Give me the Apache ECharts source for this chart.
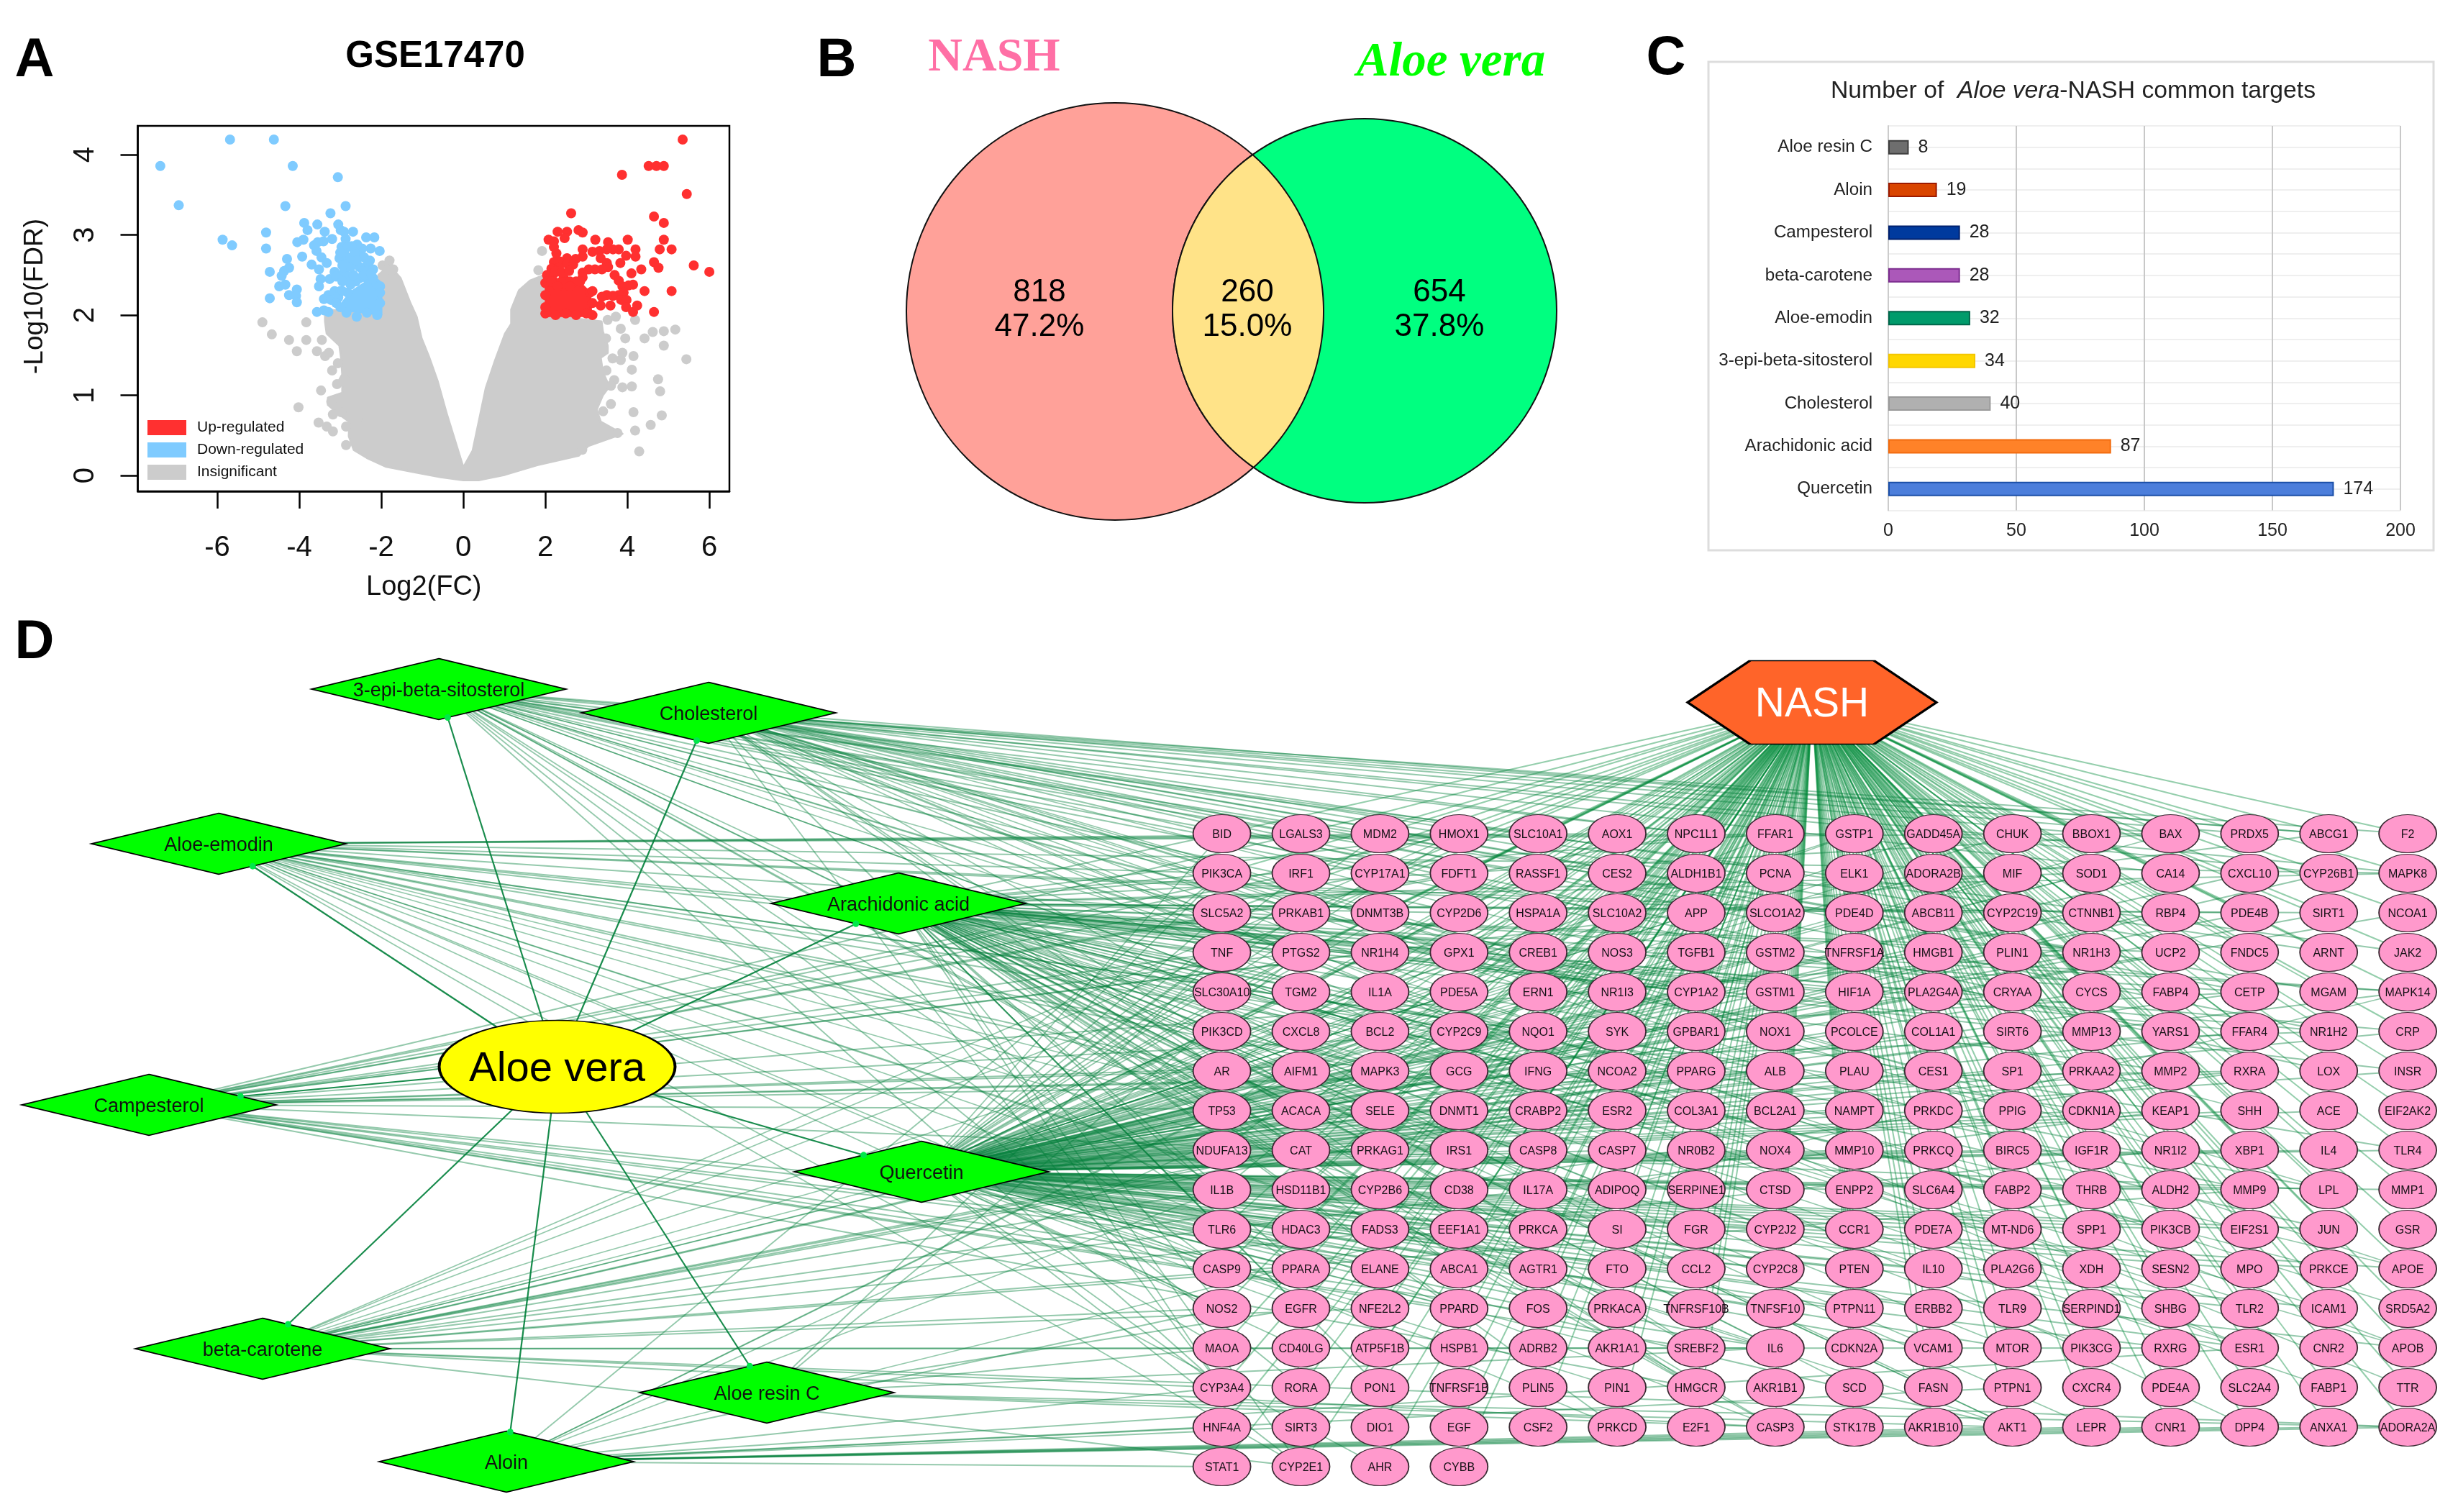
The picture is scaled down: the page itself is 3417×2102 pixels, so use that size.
<!DOCTYPE html>
<html><head><meta charset="utf-8">
<style>html,body{margin:0;padding:0;background:#fff}#c{width:3417px;height:2102px}</style>
<script src="https://cdn.jsdelivr.net/npm/echarts@6/dist/echarts.min.js"></script>
</head><body><div id="c"></div>
<script>
// ---------- Panel A: volcano (log2FC, -log10FDR)
const grayDense=[[0,-0.057],[-0.55,-0.02],[-1.18,0.04],[-1.88,0.11],[-2.35,0.22],[-2.67,0.32],[-2.79,0.49],[-2.78,0.67],[-3.02,0.76],[-3.3,0.88],[-3.3,0.97],[-2.95,1.03],[-2.95,1.12],[-3.06,1.16],[-2.95,1.26],[-2.98,1.47],[-3.02,1.62],[-3.33,1.77],[-3.37,1.92],[-3.37,2.07],[-1.95,2],[-2.07,2.5],[-1.8,2.62],[-1.53,2.46],[-1.3,2.16],[-1.14,1.98],[-1.02,1.71],[-0.83,1.47],[-0.63,1.18],[-0.4,0.76],[0,0.1],[0.23,0.31],[0.55,1.09],[0.78,1.44],[1.02,1.77],[1.17,1.89],[1.17,2.07],[1.36,2.31],[1.63,2.43],[1.97,2.5],[1.97,2],[3.37,1.92],[3.4,1.8],[3.52,1.62],[3.52,1.53],[3.35,1.47],[3.4,1.29],[3.56,1.11],[3.4,1],[3.25,0.82],[3.35,0.67],[3.88,0.52],[3.05,0.37],[2.82,0.25],[1.8,0.13],[1.02,0.01],[0.39,-0.057]];
const grayPoints=[[-4.9,1.91],[-3.83,1.91],[-4.67,1.76],[-4.25,1.69],[-3.83,1.69],[-3.45,1.69],[-4.06,1.55],[-3.57,1.55],[-3.37,1.49],[-3.28,1.53],[-3.06,1.4],[-3.2,1.31],[-3.08,1.14],[-2.9,1.2],[-3.47,1.06],[-4.02,0.85],[-3.53,0.66],[-3.33,0.61],[-3.18,0.55],[-2.86,0.61],[-2.86,0.38],[-3.22,0.92],[-3.18,0.76],[-2.98,0.79],[-2.59,0.7],[3.52,1.94],[3.72,1.98],[4.19,1.94],[3.84,1.83],[5.17,1.82],[4.89,1.8],[4.62,1.79],[4.42,1.71],[3.95,1.71],[3.48,1.71],[4.89,1.62],[5.44,1.45],[4.15,1.49],[3.88,1.53],[3.84,1.44],[3.64,1.46],[4.11,1.32],[3.49,1.31],[3.68,1.19],[4.75,1.2],[4.8,1.05],[4.11,1.11],[3.88,1.1],[3.6,1.12],[3.6,0.89],[3.41,0.8],[4.15,0.79],[4.84,0.75],[4.57,0.63],[4.19,0.56],[3.76,0.53],[4.29,0.3],[2.9,0.32],[1.92,2.8],[1.83,2.56],[-1.8,2.68],[-1.97,2.62],[-1.83,2.57],[-1.71,2.57]];
const blueDense=[[-2.94,2.16],[-2.76,2.28],[-2.35,2.42],[-2,2.36],[-2,2.01],[-2.91,2.06]];
const bluePoints=[[-7.39,3.86],[-5.69,4.19],[-4.62,4.19],[-4.16,3.86],[-3.06,3.72],[-6.94,3.37],[-4.34,3.36],[-2.87,3.36],[-3.24,3.27],[-3.88,3.15],[-3.8,3.06],[-3.56,3.13],[-3.05,3.13],[-2.99,3.06],[-3.38,3.04],[-2.69,3.04],[-2.91,3.04],[-4.81,3.03],[-5.87,2.94],[-5.64,2.87],[-2.37,2.97],[-2.17,2.97],[-4.05,2.91],[-3.9,2.94],[-3.2,2.95],[-3.41,2.92],[-2.87,2.95],[-4.81,2.83],[-3.64,2.87],[-3.55,2.91],[-3.58,2.8],[-2.04,2.8],[-2.26,2.83],[-2.47,2.83],[-2.59,2.88],[-2.97,2.85],[-2.82,2.85],[-3.02,2.71],[-2.91,2.77],[-2.56,2.74],[-2.82,2.67],[-2.67,2.64],[-3.46,2.72],[-3.33,2.65],[-4.3,2.7],[-3.93,2.73],[-3.7,2.63],[-3.52,2.57],[-4.25,2.59],[-4.37,2.55],[-4.72,2.54],[-4.43,2.49],[-3.14,2.54],[-2.91,2.55],[-2.35,2.62],[-2.2,2.57],[-2.53,2.6],[-2.44,2.55],[-3,2.48],[-2.82,2.48],[-3.26,2.45],[-3.48,2.45],[-3.52,2.36],[-4.49,2.36],[-4.34,2.38],[-4.06,2.32],[-4.25,2.25],[-4.08,2.24],[-4.06,2.16],[-4.72,2.21],[-3.14,2.3],[-3,2.3],[-2.82,2.28],[-3.29,2.25],[-3.4,2.2],[-3.23,2.19],[-3.57,2.04],[-3.29,2.04],[-3.4,2.06],[-3.05,2.22],[-2.53,2.46],[-2.35,2.46],[-2.12,2.39],[-2.03,2.36],[-2.85,2.03],[-2.6,1.98],[-2.35,2.03],[-2.1,2.0],[-2.03,2.15],[-2.03,2.28],[-2.2,2.46],[-2.4,2.5],[-2.62,2.42],[-2.75,2.38],[-2.68,2.5],[-2.95,2.3],[-3.1,2.15],[-3,2.1],[-2.75,2.72],[-2.75,2.6],[-2.65,2.78],[-2.42,2.72],[-2.28,2.68],[-2.25,2.52],[-2.6,2.68],[-2.95,2.62],[-3,2.78],[-2.72,2.86],[-3.1,2.48],[-2.95,2.42]];
const redDense=[[2.01,2.37],[2.91,2.37],[3.09,2.28],[3.12,1.99],[2.01,1.99]];
const redPoints=[[5.35,4.19],[4.52,3.86],[4.71,3.86],[4.89,3.86],[3.87,3.75],[5.45,3.51],[2.63,3.27],[4.65,3.23],[4.89,3.15],[2.81,3.06],[2.91,3.03],[2.3,3.04],[2.53,3.04],[2.47,2.96],[2.08,2.94],[2.21,2.92],[2.21,2.85],[2.27,2.77],[3.22,2.94],[3.53,2.91],[4.01,2.94],[4.89,2.94],[4.79,2.82],[5.08,2.82],[4.2,2.82],[4.2,2.73],[3.79,2.82],[3.65,2.82],[3.5,2.82],[3.32,2.8],[3.15,2.79],[2.91,2.82],[2.91,2.73],[2.74,2.7],[2.53,2.71],[2.36,2.67],[2.21,2.66],[2.15,2.58],[2.04,2.5],[2.33,2.59],[2.53,2.64],[2.68,2.63],[3.97,2.74],[3.35,2.71],[3.5,2.65],[3.83,2.65],[3.53,2.6],[3.38,2.57],[3.21,2.57],[3.06,2.57],[2.91,2.53],[2.91,2.47],[4.65,2.66],[4.76,2.59],[5.62,2.62],[6,2.54],[4.34,2.57],[4.1,2.52],[3.69,2.5],[3.79,2.43],[3.88,2.36],[4.14,2.38],[4.03,2.37],[4.42,2.3],[5.08,2.3],[3.91,2.28],[3.79,2.25],[3.65,2.24],[3.5,2.25],[3.38,2.23],[3.35,2.12],[3.59,2.12],[3.85,2.19],[3.98,2.19],[3.97,2.1],[4.14,2.04],[4.24,2.12],[4.65,2.04],[3.09,2.28],[2.09,2.46],[2.45,2.46],[2.21,2.52],[2,2.02],[2.25,2],[2.5,2.02],[2.75,2],[3,2.02],[3.15,2],[2,2.1],[2,2.25],[2,2.4],[3.15,2.15],[3.15,2.3],[2.2,2.42],[2.4,2.42],[2.6,2.42],[2.75,2.42],[2.85,2.42],[2.06,2.42],[2.15,2.42],[2.25,2.55],[2.4,2.53],[2.58,2.55],[2.3,2.36],[2.6,2.36]];
const volcanoXTicks=[-6,-4,-2,0,2,4,6];
const volcanoYTicks=[0,1,2,3,4];

// ---------- Panel B: Venn
const vennCounts=[818,260,654];
const vennPercents=['47.2%','15.0%','37.8%'];

// ---------- Panel C: bars
const compounds=['Aloe resin C','Aloin','Campesterol','beta-carotene','Aloe-emodin','3-epi-beta-sitosterol','Cholesterol','Arachidonic acid','Quercetin'];
const targetCounts=[8,19,28,28,32,34,40,87,174];
const barFills=['#6E6E6E','#D94500','#003A9E','#AB58B9','#009B6B','#FFD700','#B0B0B0','#FF8228','#4C7EDB'];
const barBorders=['#3E3E3E','#9C1A00','#00206E','#7B2C8E','#00664A','#F4C600','#9A9A9A','#F26B0E','#1B4FA8'];

// ---------- Panel D: network
const geneRows=[
['BID','LGALS3','MDM2','HMOX1','SLC10A1','AOX1','NPC1L1','FFAR1','GSTP1','GADD45A','CHUK','BBOX1','BAX','PRDX5','ABCG1','F2'],
['PIK3CA','IRF1','CYP17A1','FDFT1','RASSF1','CES2','ALDH1B1','PCNA','ELK1','ADORA2B','MIF','SOD1','CA14','CXCL10','CYP26B1','MAPK8'],
['SLC5A2','PRKAB1','DNMT3B','CYP2D6','HSPA1A','SLC10A2','APP','SLCO1A2','PDE4D','ABCB11','CYP2C19','CTNNB1','RBP4','PDE4B','SIRT1','NCOA1'],
['TNF','PTGS2','NR1H4','GPX1','CREB1','NOS3','TGFB1','GSTM2','TNFRSF1A','HMGB1','PLIN1','NR1H3','UCP2','FNDC5','ARNT','JAK2'],
['SLC30A10','TGM2','IL1A','PDE5A','ERN1','NR1I3','CYP1A2','GSTM1','HIF1A','PLA2G4A','CRYAA','CYCS','FABP4','CETP','MGAM','MAPK14'],
['PIK3CD','CXCL8','BCL2','CYP2C9','NQO1','SYK','GPBAR1','NOX1','PCOLCE','COL1A1','SIRT6','MMP13','YARS1','FFAR4','NR1H2','CRP'],
['AR','AIFM1','MAPK3','GCG','IFNG','NCOA2','PPARG','ALB','PLAU','CES1','SP1','PRKAA2','MMP2','RXRA','LOX','INSR'],
['TP53','ACACA','SELE','DNMT1','CRABP2','ESR2','COL3A1','BCL2A1','NAMPT','PRKDC','PPIG','CDKN1A','KEAP1','SHH','ACE','EIF2AK2'],
['NDUFA13','CAT','PRKAG1','IRS1','CASP8','CASP7','NR0B2','NOX4','MMP10','PRKCQ','BIRC5','IGF1R','NR1I2','XBP1','IL4','TLR4'],
['IL1B','HSD11B1','CYP2B6','CD38','IL17A','ADIPOQ','SERPINE1','CTSD','ENPP2','SLC6A4','FABP2','THRB','ALDH2','MMP9','LPL','MMP1'],
['TLR6','HDAC3','FADS3','EEF1A1','PRKCA','SI','FGR','CYP2J2','CCR1','PDE7A','MT-ND6','SPP1','PIK3CB','EIF2S1','JUN','GSR'],
['CASP9','PPARA','ELANE','ABCA1','AGTR1','FTO','CCL2','CYP2C8','PTEN','IL10','PLA2G6','XDH','SESN2','MPO','PRKCE','APOE'],
['NOS2','EGFR','NFE2L2','PPARD','FOS','PRKACA','TNFRSF10B','TNFSF10','PTPN11','ERBB2','TLR9','SERPIND1','SHBG','TLR2','ICAM1','SRD5A2'],
['MAOA','CD40LG','ATP5F1B','HSPB1','ADRB2','AKR1A1','SREBF2','IL6','CDKN2A','VCAM1','MTOR','PIK3CG','RXRG','ESR1','CNR2','APOB'],
['CYP3A4','RORA','PON1','TNFRSF1B','PLIN5','PIN1','HMGCR','AKR1B1','SCD','FASN','PTPN1','CXCR4','PDE4A','SLC2A4','FABP1','TTR'],
['HNF4A','SIRT3','DIO1','EGF','CSF2','PRKCD','E2F1','CASP3','STK17B','AKR1B10','AKT1','LEPR','CNR1','DPP4','ANXA1','ADORA2A'],
['STAT1','CYP2E1','AHR','CYBB']];
const aloeResinCTargets=['MAOA','TNF','IL6','EGFR','PTGS2','AKT1','CASP3','ADORA2A'];
const aloinTargets=['STAT1','HNF4A','CYP3A4','SIRT3','AKT1','ANXA1','ADORA2A','LEPR','PTPN1','PIK3CA','TP53','IL1B','NOS2','ESR1','CNR1','MAPK14','DPP4','CYP2C9','BCL2'];
const campesterolTargets=['LGALS3','IRF1','PTGS2','HMOX1','NR1H4','NR1H3','NR1H2','ABCG1','ABCA1','SREBF2','HMGCR','LPL','CETP','PPARA','PPARG','PPARD','RXRA','RXRG','AR','ESR2','CYP17A1','NPC1L1','FDFT1','ALB','TNF','IL6','CYP2C8','APOB'];
const betaCaroteneTargets=['RXRA','RXRG','RBP4','CRABP2','CYP26B1','PPARG','PPARA','NFE2L2','KEAP1','HMOX1','GSTP1','CAT','SOD1','TNF','IL6','IL1B','NOS2','PTGS2','BCL2','CASP3','TP53','ALB','CYP1A2','CYP3A4','CYP2E1','ADORA2A','MMP9','NR1I2'];
const aloeEmodinTargets=['AR','ESR1','ESR2','TP53','BCL2','BAX','CASP3','CASP8','CASP9','AKT1','PIK3CA','MAPK14','MAPK8','MAPK3','CDKN1A','PRKCD','PRKCA','ABCB11','CYP1A2','CYP2E1','CYP2C9','GSTM1','GSTP1','AOX1','NQO1','TNF','IL6','IL1B','NOS2','HMOX1','PDE4D','AHR'];
const epiSitosterolTargets=['SLC5A2','SLC10A1','SLC10A2','SLCO1A2','ABCG1','NPC1L1','HMGCR','PPARG','PPARA','NR1H3','NR1I3','CYP1A2','CYP2D6','CYP3A4','TNF','IL1B','PTGS2','BAX','BCL2','CASP3','CASP9','TP53','AKT1','MAPK8','JAK2','SRD5A2','AR','ESR1','RORA','CES1','CES2','FDFT1','ACACA','YARS1'];
const cholesterolTargets=['NPC1L1','ABCG1','ABCA1','ABCB11','SREBF2','HMGCR','CETP','APOE','APOB','LPL','NR1H2','NR1H3','NR1H4','NR1I2','NR1I3','CYP17A1','CYP3A4','CYP26B1','SHBG','LOX','TTR','PON1','ALB','LGALS3','F2','BBOX1','PRDX5','MGAM','FNDC5','SHH','ESR1','ESR2','AR','SI','GPBAR1','CRYAA','PPIG','ARNT','DPP4','CA14'];
const arachidonicTargets=['FFAR1','PTGS2','PLA2G4A','CYP2C9','CYP2C8','CYP2J2','PPARA','PPARG','PPARD','FABP1','FABP2','FABP4','ALB','CYP2E1','CYP1A2','CYP2B6','CYP2D6','CYP2C19','CYP3A4','FADS3','PLA2G6','ACACA','NR1H3','NR1H2','NR1H4','FFAR4','GPX1','TNF','IL1B','IL6','IL10','MMP9','MMP2','MMP13','NOS2','NOS3','HMOX1','CAT','SOD1','BCL2','CASP3','TP53','BID','BAX','AKT1','MTOR','EGFR','INSR','ICAM1','VCAM1','SELE','CRP','APOE','APOB','LPL','CETP','SCD','FASN','SREBF2','HMGCR','TLR4','TLR2','TLR6','CCL2','CXCL8','IFNG','JUN','FOS','CREB1','HIF1A','PRKCA','PRKCE','PRKCD','PRKACA','MAPK3','MAPK8','MAPK14','PDE4B','PIK3CA','PIK3CB','PIK3CD','PIK3CG','SIRT1','UCP2','LEPR','ADIPOQ','ABCA1'];
const quercetinTargets=['BID','MDM2','HMOX1','SLC10A1','AOX1','FFAR1','GSTP1','GADD45A','CHUK','BAX','PIK3CA','IRF1','CYP17A1','RASSF1','CES2','ALDH1B1','PCNA','ELK1','ADORA2B','MIF','SOD1','CA14','CXCL10','SLC5A2','PRKAB1','DNMT3B','CYP2D6','HSPA1A','APP','SLCO1A2','PDE4D','CYP2C19','CTNNB1','PDE4B','SIRT1','NCOA1','TNF','PTGS2','GPX1','CREB1','NOS3','TGFB1','GSTM2','TNFRSF1A','HMGB1','NR1H3','UCP2','TGM2','IL1A','PDE5A','ERN1','CYP1A2','GSTM1','HIF1A','PLA2G4A','CRYAA','CYCS','CETP','MAPK14','PIK3CD','CXCL8','BCL2','CYP2C9','NQO1','SYK','NOX1','PCOLCE','COL1A1','SIRT6','MMP13','FFAR4','CRP','AR','AIFM1','MAPK3','IFNG','NCOA2','PPARG','ALB','PLAU','CES1','SP1','PRKAA2','MMP2','RXRA','INSR','TP53','SELE','DNMT1','ESR2','COL3A1','BCL2A1','NAMPT','PRKDC','CDKN1A','KEAP1','SHH','ACE','NDUFA13','CAT','PRKAG1','IRS1','CASP8','CASP7','NOX4','MMP10','PRKCQ','BIRC5','IGF1R','XBP1','IL4','TLR4','IL1B','CYP2B6','CD38','IL17A','ADIPOQ','SERPINE1','CTSD','ENPP2','THRB','ALDH2','MMP9','MMP1','TLR6','HDAC3','EEF1A1','PRKCA','FGR','CYP2J2','CCR1','PDE7A','MT-ND6','SPP1','PIK3CB','EIF2S1','JUN','CASP9','PPARA','ELANE','ABCA1','AGTR1','FTO','CCL2','CYP2C8','PTEN','IL10','XDH','MPO','PRKCE','APOE','NOS2','EGFR','NFE2L2','PPARD','FOS','PRKACA','TNFSF10','PTPN11','ERBB2','TLR2','ICAM1','MAOA','CD40LG','HSPB1','AKR1A1','IL6','VCAM1','MTOR','ESR1','CYP3A4','PIN1','AKT1','CYP2E1'];
const compoundTargets={'Aloe resin C':aloeResinCTargets,'Aloin':aloinTargets,'Campesterol':campesterolTargets,'beta-carotene':betaCaroteneTargets,'Aloe-emodin':aloeEmodinTargets,'3-epi-beta-sitosterol':epiSitosterolTargets,'Cholesterol':cholesterolTargets,'Arachidonic acid':arachidonicTargets,'Quercetin':quercetinTargets};

// ---------- layout of the network (separate from the data)
const SANS='"Liberation Sans",Arial,sans-serif', SERIF='"Liberation Serif",serif';
const compoundLayout={'3-epi-beta-sitosterol':[610,958],'Cholesterol':[985,991],'Aloe-emodin':[304,1173],'Arachidonic acid':[1249,1256],'Campesterol':[207,1536],'Quercetin':[1281,1629],'beta-carotene':[365,1875],'Aloe resin C':[1066,1936],'Aloin':[704,2032]};
const HUB=[774.5,1483], NASHPOS=[2519,976.5], DIA=[354,85];
const ELLIPSE='path://M0,50A50,50 0 1 1 100,50A50,50 0 1 1 0,50Z';
const HEX='path://M0,50L25,0L75,0L100,50L75,100L25,100Z';

const nodes=[], links=[];
geneRows.forEach((row,r)=>row.forEach((g,c)=>{
  nodes.push({name:g,value:[1698.6+c*109.9,1159+r*55],symbol:ELLIPSE,symbolSize:[80,53],
    itemStyle:{color:'#FF99CC',borderColor:'#3a2a33',borderWidth:1.5},
    label:{show:true,position:'inside',offset:[0,2],fontSize:16,color:'#151015',fontFamily:SANS}});
  links.push({source:'NASH',target:g,lineStyle:{color:'#008A3A',opacity:0.42,width:2}});
}));
compounds.forEach(n=>{
  nodes.push({name:n,value:compoundLayout[n],symbol:'diamond',symbolSize:DIA,
    itemStyle:{color:'#00FF00',borderColor:'#000',borderWidth:2.5},
    label:{show:true,position:'inside',offset:[0,3],fontSize:27,color:'#111',fontFamily:SANS}});
  compoundTargets[n].forEach(g=>links.push({source:n,target:g,lineStyle:{color:'#007F3A',opacity:0.42,width:1.8}}));
  links.push({source:'Aloe vera',target:n,lineStyle:{color:'#00803A',opacity:0.9,width:2.2}});
});
nodes.push({name:'Aloe vera',value:HUB,symbol:ELLIPSE,symbolSize:[328,129],
  itemStyle:{color:'#FFFF00',borderColor:'#000',borderWidth:2.5},
  label:{show:true,position:'inside',offset:[0,4],fontSize:58,color:'#000',fontFamily:SANS}});
nodes.push({name:'NASH',value:NASHPOS,symbol:HEX,symbolSize:[346,116],
  itemStyle:{color:'#FF6429',borderColor:'#000',borderWidth:3},
  label:{show:true,position:'inside',offset:[0,4],fontSize:57,color:'#fff',fontFamily:SANS}});
// small target dots where the hub's edges meet each diamond's outline
const endDots=compounds.map(n=>{
  const [x,y]=compoundLayout[n],dx=HUB[0]-x,dy=HUB[1]-y;
  const t=1/(Math.abs(dx)/(DIA[0]/2)+Math.abs(dy)/(DIA[1]/2));
  return [x+dx*t,y+dy*t];
});

// ---------- Venn geometry
const V1={x:1550,y:433,r:290},V2={x:1897,y:432,r:267};
function lens(){
  const dx=V2.x-V1.x,dy=V2.y-V1.y,d=Math.hypot(dx,dy),ax=Math.atan2(dy,dx);
  const a=(d*d+V1.r*V1.r-V2.r*V2.r)/(2*d);
  const A1=Math.acos(a/V1.r),A2=Math.acos((d-a)/V2.r),pts=[];
  for(let i=0;i<=80;i++){const t=ax-A1+2*A1*i/80;pts.push([V1.x+V1.r*Math.cos(t),V1.y+V1.r*Math.sin(t)]);}
  for(let i=0;i<=80;i++){const t=ax+Math.PI-A2+2*A2*i/80;pts.push([V2.x+V2.r*Math.cos(t),V2.y+V2.r*Math.sin(t)]);}
  return pts;
}
function txt(text,x,y,size,o){
  return {type:'text',x,y,z:20,style:Object.assign({text,fontSize:size,fontFamily:SANS,fill:'#000',align:'center',verticalAlign:'middle'},o||{})};
}
const graphics=[
  txt('A',48,85,76,{fontWeight:'bold'}),txt('B',1163,85,76,{fontWeight:'bold'}),txt('C',2316,82,76,{fontWeight:'bold'}),txt('D',48,894,76,{fontWeight:'bold'}),
  {type:'circle',shape:{cx:V1.x,cy:V1.y,r:V1.r},style:{fill:'#FFA199',stroke:'#111',lineWidth:2}},
  {type:'circle',shape:{cx:V2.x,cy:V2.y,r:V2.r},style:{fill:'#00FF80',stroke:'#111',lineWidth:2}},
  {type:'polygon',shape:{points:lens()},style:{fill:'#FFE388',stroke:'#111',lineWidth:2}},
  txt(String(vennCounts[0]),1445,407,44),txt(vennPercents[0],1445,455,44),
  txt(String(vennCounts[1]),1734,407,44),txt(vennPercents[1],1734,455,44),
  txt(String(vennCounts[2]),2001,407,44),txt(vennPercents[2],2001,455,44),
  txt('NASH',1382,81,66,{fontFamily:SERIF,fontWeight:'bold',fill:'#FF6FA5'}),
  txt('Aloe vera',2017,88,67,{fontFamily:SERIF,fontWeight:'bold',fontStyle:'italic',fill:'#00FF00'}),
  {type:'rect',z:-1,shape:{x:2375,y:86,width:1008,height:679},style:{fill:'#fff',stroke:'#DDDDDD',lineWidth:3}}
];
function polySeries(name,pts,fill){
  return {type:'custom',name,xAxisIndex:0,yAxisIndex:0,data:[pts[0]],silent:true,clip:false,
    renderItem:(p,api)=>({type:'polygon',shape:{points:pts.map(v=>api.coord(v))},style:{fill,stroke:fill,lineWidth:3,lineJoin:'round'}})};
}
function dotSeries(name,pts,color){
  return {type:'scatter',name,xAxisIndex:0,yAxisIndex:0,data:pts,symbol:'circle',symbolSize:14,itemStyle:{color,opacity:1},silent:true};
}
const blackAxisLine={show:true,onZero:false,lineStyle:{color:'#000',width:2.5}};
const option={
  animation:false,backgroundColor:'#fff',textStyle:{fontFamily:SANS},
  title:[
    {text:'GSE17470',left:600,top:74,textAlign:'center',textVerticalAlign:'middle',textStyle:{fontSize:51,fontWeight:'bold',color:'#000',fontFamily:SANS}},
    {text:'{a|Number of  }{b|Aloe vera}{a|-NASH common targets}',left:2877,top:122,textAlign:'center',textVerticalAlign:'middle',
     textStyle:{fontWeight:'normal',rich:{a:{fontSize:33.7,fontWeight:'normal',color:'#222',fontFamily:SANS},b:{fontSize:33.7,fontWeight:'normal',color:'#222',fontStyle:'italic',fontFamily:SANS}}}}
  ],
  legend:{data:['Up-regulated','Down-regulated','Insignificant'],left:200,top:579,orient:'vertical',icon:'rect',itemWidth:54,itemHeight:21,itemGap:10,
    textStyle:{fontSize:21,color:'#111',fontFamily:SANS,padding:[0,0,0,10]},selectedMode:false},
  grid:[
    {left:191.5,top:175,width:822.5,height:508,show:true,borderColor:'#000',borderWidth:2.5,backgroundColor:'transparent'},
    {left:2625,top:175,width:712,height:534.5},
    {left:0,top:0,width:3417,height:2102}
  ],
  xAxis:[
    {gridIndex:0,type:'value',min:-7.94,max:6.49,splitLine:{show:false},axisLine:blackAxisLine,
     axisTick:{show:true,inside:false,length:24,lineStyle:{color:'#000',width:2.5},customValues:volcanoXTicks},
     axisLabel:{fontSize:40,color:'#111',margin:59,customValues:volcanoXTicks},
     name:'Log2(FC)',nameLocation:'middle',nameGap:115,nameTextStyle:{fontSize:38,color:'#111',padding:[0,27,0,0]}},
    {gridIndex:1,type:'value',min:0,max:200,interval:50,axisLine:{show:false},axisTick:{show:false},
     splitLine:{show:true,lineStyle:{color:'#C8C8C8',width:2}},axisLabel:{fontSize:25,color:'#222',margin:16}},
    {gridIndex:2,type:'value',min:0,max:3417,show:false}
  ],
  yAxis:[
    {gridIndex:0,type:'value',min:-0.197,max:4.36,splitLine:{show:false},axisLine:blackAxisLine,
     axisTick:{show:true,inside:false,length:24,lineStyle:{color:'#000',width:2.5},customValues:volcanoYTicks},
     axisLabel:{fontSize:40,color:'#111',rotate:90,margin:53,customValues:volcanoYTicks},
     name:'-Log10(FDR)',nameLocation:'middle',nameGap:124,nameRotate:90,nameTextStyle:{fontSize:37,color:'#111',padding:[0,0,0,34]}},
    {gridIndex:1,type:'category',data:compounds,inverse:true,axisLine:{show:true,lineStyle:{color:'#CCCCCC',width:2}},axisTick:{show:false},
     axisLabel:{fontSize:24.2,color:'#222',margin:22,interval:0},splitLine:{show:false}},
    {gridIndex:2,type:'value',min:0,max:2102,inverse:true,show:false},
    {gridIndex:1,type:'value',min:0,max:9,interval:0.5,position:'right',axisLine:{show:false},axisTick:{show:false},axisLabel:{show:false},
     splitLine:{show:true,lineStyle:{color:'#EFEFEF',width:2}}}
  ],
  graphic:graphics,
  series:[
    polySeries('dense-insignificant',grayDense,'#CCCCCC'),
    dotSeries('Insignificant',grayPoints,'#CCCCCC'),
    polySeries('dense-down',blueDense,'#7FCBFF'),
    dotSeries('Down-regulated',bluePoints,'#7FCBFF'),
    polySeries('dense-up',redDense,'#FF3030'),
    dotSeries('Up-regulated',redPoints,'#FF3030'),
    {type:'bar',name:'targets',xAxisIndex:1,yAxisIndex:1,barWidth:20,z:5,silent:true,
     data:targetCounts.map((v,i)=>({value:v,itemStyle:{color:barFills[i],borderColor:barBorders[i],borderWidth:2}})),
     label:{show:true,position:'right',distance:13,fontSize:25,color:'#222'}},
    {type:'graph',coordinateSystem:'cartesian2d',xAxisIndex:2,yAxisIndex:2,layout:'none',silent:true,z:6,clip:false,
     data:nodes,links,edgeSymbol:['none','none'],emphasis:{disabled:true},label:{show:true}},
    {type:'scatter',name:'edge-ends',xAxisIndex:2,yAxisIndex:2,data:endDots,symbolSize:9,z:7,silent:true,itemStyle:{color:'#00E84A',opacity:1}}
  ]
};
const chart=echarts.init(document.getElementById('c'),null,{renderer:'canvas'});
chart.setOption(option);
</script></body></html>
